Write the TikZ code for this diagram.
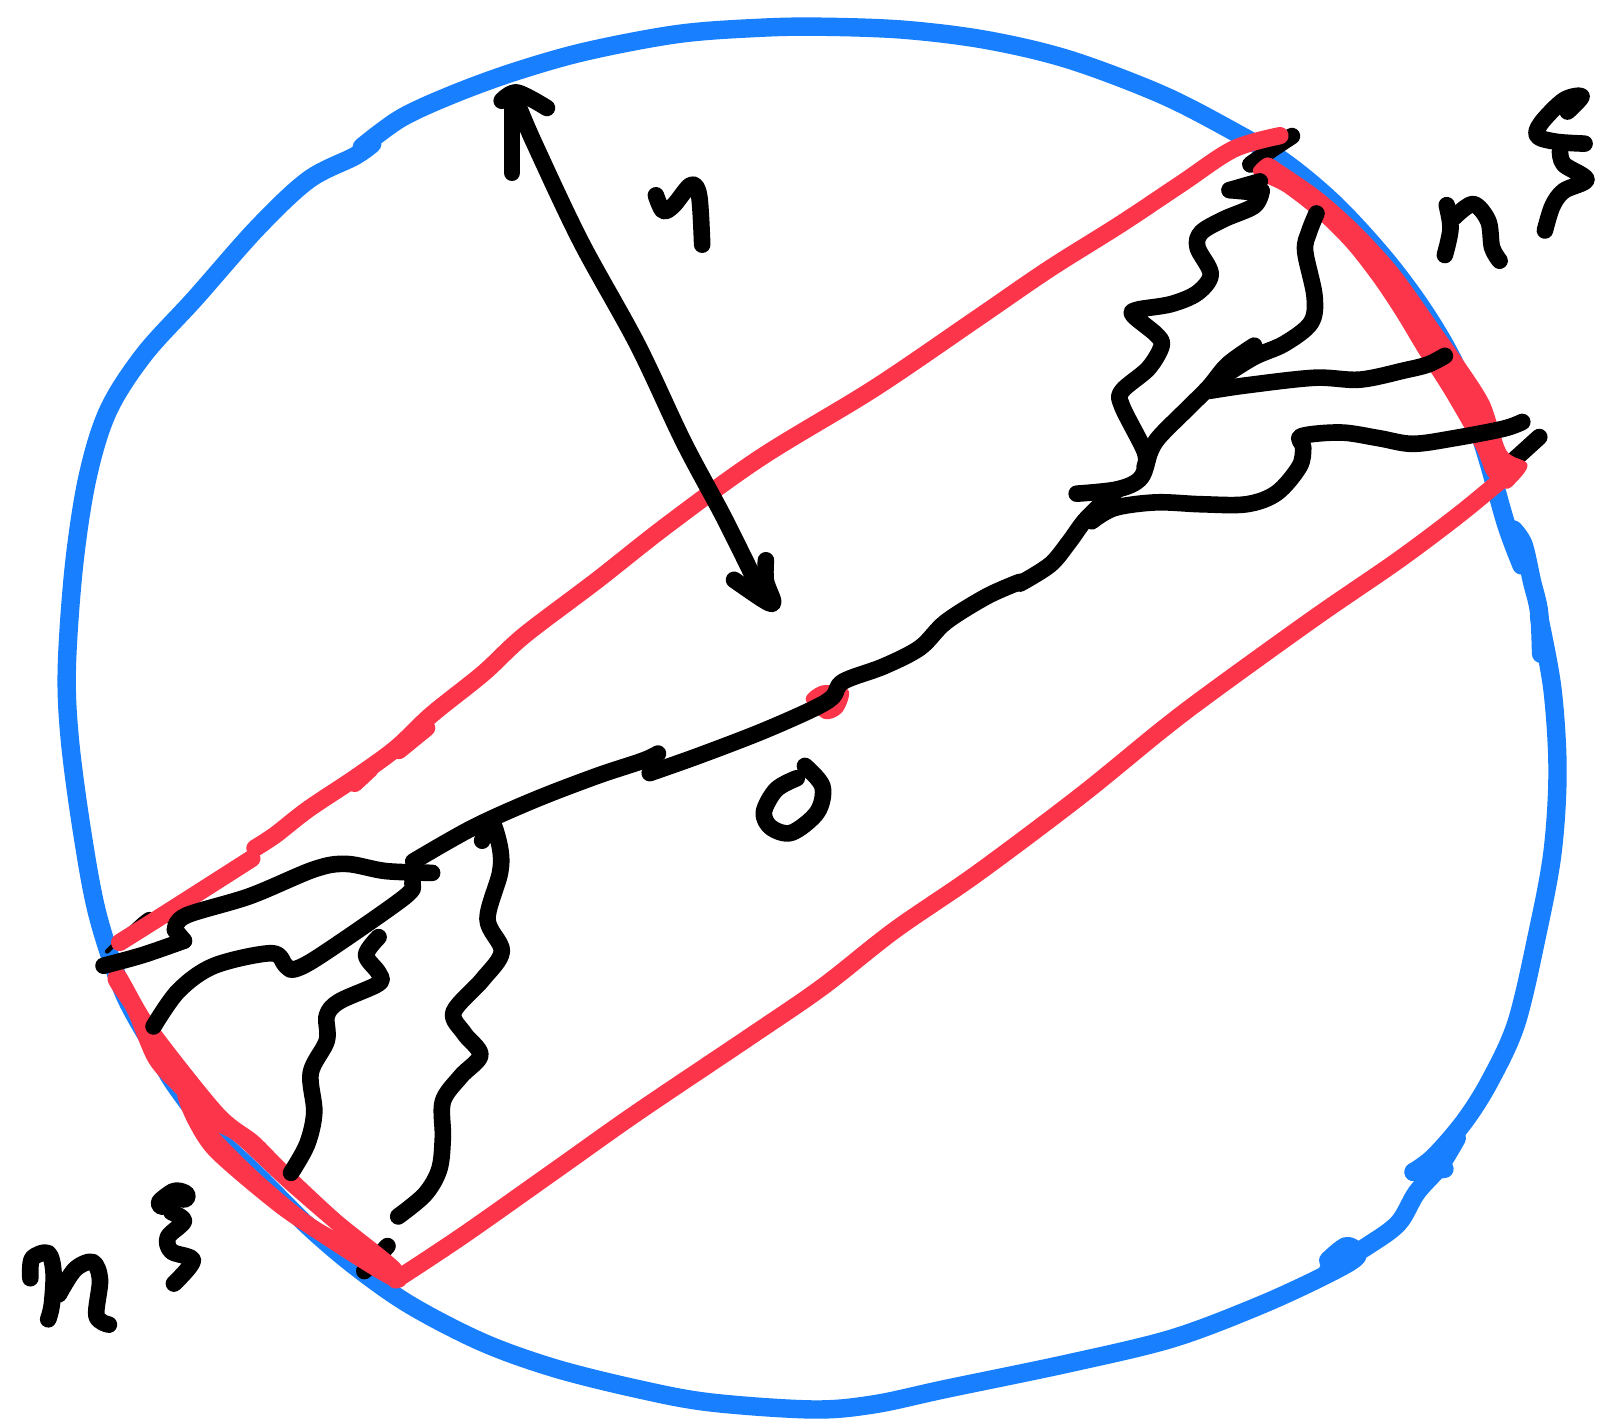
\documentclass[tikz,border=0pt]{standalone}
\definecolor{sblue}{HTML}{1880FF}
\definecolor{sred}{HTML}{FC354A}
\newcommand\st[2]{\draw[#1] plot[smooth,tension=0.55] coordinates {#2};}
\newcommand\fl[2]{\filldraw[#1,line width=1.5pt,line join=round] plot[smooth cycle,tension=0.5] coordinates {#2};}
\tikzset{
  blu/.style={draw=sblue,line width=10.2pt,line cap=round,line join=round},
  rd/.style={draw=sred,line width=9.6pt,line cap=round,line join=round},
  blk/.style={draw=black,line width=9.2pt,line cap=round,line join=round},
  zl/.style={shift={(0,758.7)},scale=0.3474},
  zr/.style={shift={(992.2,68.1)},scale=0.3673}
}
\begin{document}
\begin{tikzpicture}[x=0.02cm,y=-0.02cm]
\useasboundingbox (0,0) rectangle (1568,1388);
\fill[white] (0,0) rectangle (1568,1388);
% blue circle
\st{blu}{(352,143)(390,115)(440,92)(500,70)(570,50)(660,33)(740,27)(800,26)(880,29)(960,39)(1040,58)(1130,92)(1200,128)(1250,158)(1300,200)(1350,255)(1390,310)(1420,365)(1445,440)(1465,510)(1480,550)}
\st{blu}{(1472,515)(1482,530)(1490,565)(1497,595)(1499,636)}
\st{blu}{(1497,600)(1510,670)(1515,750)(1510,830)(1495,910)(1475,995)(1450,1050)(1425,1090)(1395,1125)(1375,1140)}
\st{blu}{(1417,1107)(1400,1135)(1378,1160)(1360,1190)(1330,1212)(1292,1235)}
\st{blu}{(1375,1140)(1405,1137)}
\st{blu}{(1292,1226)(1310,1212)(1320,1222)(1290,1240)(1225,1270)(1140,1302)(1040,1326)(920,1351)(850,1366)(790,1371)(690,1364)(620,1351)(540,1331)(470,1306)(400,1270)(347,1233)(300,1193)(250,1143)(205,1100)(170,1055)(150,1020)(120,965)(95,890)(80,810)(68,720)(65,650)(72,550)(85,465)(105,400)(140,345)(190,290)(250,222)(300,175)(345,152)(362,140)}
% black beneath red
\begin{scope}[zl]
\st{blk}{(1020,1375)(1085,1305)}
\draw[draw=black,line width=2.5pt,line cap=round] plot[smooth,tension=0.6] coordinates {(300,480)(400,385)(430,380)(470,395)};
\end{scope}
\begin{scope}[zr]
\st{blk}{(610,250)(660,215)(720,175)}
\st{blk}{(1300,1040)(1375,972)}
\end{scope}
% red rectangle
\begin{scope}[zl]
\st{rd}{(335,455)(470,370)(705,220)}
\end{scope}
\st{rd}{(345,762)(360,748)}
\st{rd}{(388,730)(415,708)}
\st{rd}{(248,825)(268,812)(300,787)(345,757)(385,728)(420,695)(470,655)(510,618)(580,565)(650,510)(740,445)(850,378)(950,310)(1020,262)(1090,218)(1150,178)(1200,145)(1245,132)}
\st{rd}{(1466,462)(1420,500)(1360,545)(1280,600)(1180,672)(1130,710)(1050,775)(950,850)(870,905)(800,960)(730,1008)(620,1082)(545,1135)(450,1202)(385,1245)}
\begin{scope}[zl]
\fl{sred}{(340,530)(430,680)(620,920)(720,1000)(800,1080)(950,1220)(1120,1360)(1100,1400)(950,1270)(800,1140)(660,1010)(590,970)(500,880)(420,790)(360,650)(305,560)}
\fl{sred}{(500,880)(530,960)(590,1050)(740,1180)(850,1260)(1100,1415)(1120,1365)(890,1240)(730,1110)(600,980)(540,890)}
\end{scope}
\begin{scope}[zr]
\fl{sred}{(620,265)(655,235)(700,260)(800,330)(900,420)(1000,530)(1100,670)(1170,770)(1240,880)(1285,1010)(1340,1045)(1310,1090)(1285,1105)(1240,1070)(1210,1000)(1130,860)(1060,750)(1000,650)(940,560)(870,470)(790,390)(700,320)(640,290)}
\end{scope}
\fl{sred}{(785,680)(800,668)(824,672)(818,692)(802,698)}
% black main line and arrow
\st{blk}{(632,752)(680,735)(740,712)(790,690)(810,678)(820,663)(860,648)(895,630)(920,605)(960,580)(992,566)}
\st{blk}{(402,838)(460,805)(520,778)(580,755)(625,740)(640,733)}
\st{blk}{(498,168)(498,100)}
\st{blk}{(488,98)(503,90)(532,105)}
\st{blk}{(505,105)(520,140)(565,235)(620,335)(665,430)(705,505)(742,580)}
\st{blk}{(714,564)(745,585)(752,585)(745,565)(745,545)}
\st{blk}{(638,190)(645,205)(655,200)(672,180)(680,190)(683,238)}
\st{blk}{(783,745)(800,765)(795,790)(770,810)(750,805)(743,790)(755,768)(775,757)}
\begin{scope}[zl]
\st{blk}{(290,520)(400,490)(515,450)}
\st{blk}{(490,420)(520,380)(700,325)(880,250)(970,235)(1080,255)(1210,260)}
\st{blk}{(490,420)(515,450)}
\st{blk}{(430,690)(500,590)(600,520)(760,485)(800,520)(825,530)(900,490)(1130,330)(1155,290)(1150,262)}
\st{blk}{(1350,170)(1375,115)(1400,190)(1400,260)(1365,390)(1405,480)(1350,560)(1270,650)(1300,710)(1345,770)(1290,830)(1240,900)(1240,1000)(1230,1090)(1190,1160)(1115,1222)}
\st{blk}{(1060,440)(1025,490)(1060,540)(1060,570)(950,620)(915,660)(915,730)(870,820)(880,930)(860,1020)(815,1100)}
\st{blk}{(85,1395)(90,1340)(135,1325)(150,1380)(145,1470)(135,1510)}
\st{blk}{(165,1440)(210,1370)(260,1350)(280,1400)(270,1500)(305,1525)}
\draw[blk,line width=13pt] plot[smooth,tension=0.6] coordinates {(455,1185)(490,1160)(515,1165)};
\st{blk}{(480,1210)(515,1235)(470,1280)(480,1320)(540,1345)(487,1410)}
\end{scope}
\begin{scope}[zr]
\st{blk}{(150,1122)(260,1110)(320,1080)(345,1010)(370,970)(440,900)(500,840)(550,780)(620,730)}
\st{blk}{(190,1195)(250,1160)(360,1145)(480,1150)(600,1150)(680,1120)(740,1050)(750,1000)(745,970)(850,960)(950,975)(1040,990)(1150,975)(1280,950)(1330,932)}
\st{blk}{(0,1360)(80,1310)(130,1250)(170,1195)(220,1145)(260,1110)}
\st{blk}{(500,850)(600,835)(780,815)(900,820)(1020,795)(1080,780)(1125,757)}
\st{blk}{(540,810)(620,760)(700,725)(770,670)(780,600)(755,480)(765,430)(785,380)}
\st{blk}{(555,318)(635,295)}
\st{blk}{(555,318)(630,325)}
\st{blk}{(640,320)(620,360)(540,395)(480,430)(470,470)(505,540)(470,590)(400,620)(310,635)(300,650)(360,700)(375,730)(340,790)(270,850)(270,890)(330,1010)(330,1050)}
\st{blk}{(1130,358)(1140,420)(1125,490)}
\st{blk}{(1150,390)(1200,355)(1240,400)(1250,470)(1270,505)}
\st{blk}{(1450,110)(1487,70)(1440,80)(1380,140)(1370,175)(1420,190)(1495,195)}
\st{blk}{(1430,215)(1440,250)(1500,290)(1440,320)(1410,360)(1390,425)}
\end{scope}
\end{tikzpicture}
\end{document}
